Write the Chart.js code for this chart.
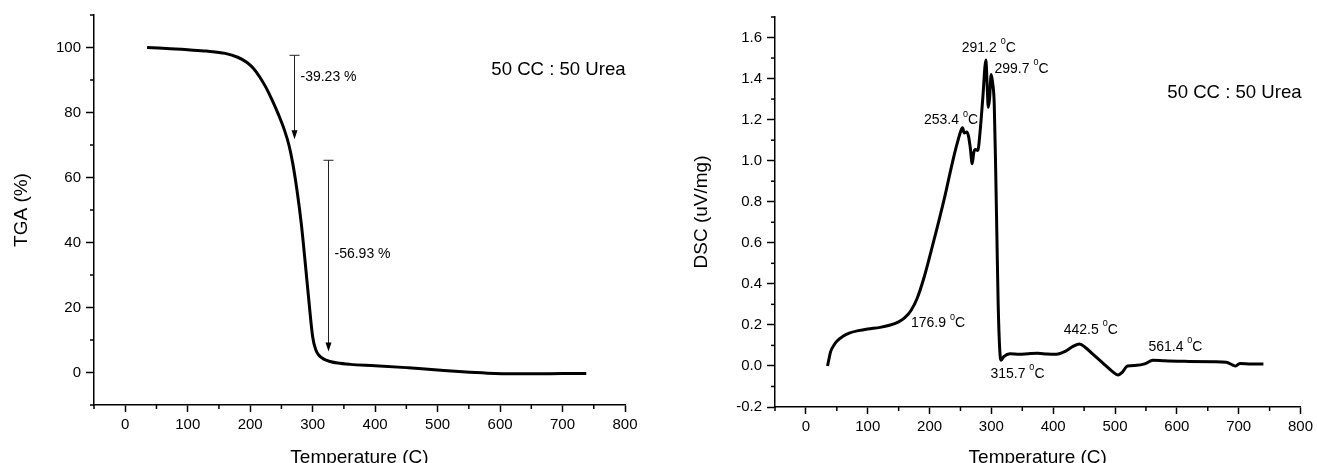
<!DOCTYPE html>
<html>
<head>
<meta charset="utf-8">
<script src="https://cdn.jsdelivr.net/npm/chart.js@4.4.0/dist/chart.umd.min.js"></script>
<style>
  html, body { margin: 0; padding: 0; background: #fff; overflow: hidden; }
  .panel { position: absolute; top: 0; }
  #tgaBox { left: 0; }
  #dscBox { left: 658px; }
</style>
</head>
<body>
<div class="panel" id="tgaBox"><canvas id="tgaChart" width="658" height="471"></canvas></div>
<div class="panel" id="dscBox"><canvas id="dscChart" width="659" height="471"></canvas></div>
<script>
// TGA curve : temperature (C) -> mass (%)
const tgaTemps = [35, 60, 100, 130, 160, 180, 195, 205, 215, 225, 235, 245, 255, 262, 268,
  275, 282, 288, 294, 300, 305, 310, 318, 328, 340, 360, 400, 450, 480, 510, 540, 580, 620, 660, 700, 738];
const tgaValues = [100, 99.8, 99.3, 98.9, 98.2, 97, 95.4, 93.6, 91, 87.8, 83.9, 79.5, 74.5, 70, 64.5,
  56, 45.5, 34, 22, 11, 7, 5.3, 4.1, 3.4, 2.9, 2.5, 2.1, 1.5, 1.1, 0.6, 0.2, -0.2, -0.4, -0.4, -0.3, -0.3];

// DSC curve : temperature (C) -> uV/mg
const dscTemps = [35, 37, 40, 45, 50, 60, 70, 85, 100, 120, 135, 150, 160, 170, 180,
  190, 200, 212, 225, 232, 240, 247, 250, 253.4, 256, 260, 263, 266, 269, 271.5,
  274, 278, 282, 286, 291.2, 293, 295, 297, 299.7, 302, 304.6, 307, 309, 311, 313.5,
  315.7, 320, 330, 345, 360, 375, 390, 405, 420, 432, 442.5, 452, 465, 480, 495,
  505, 512, 520, 535, 548, 561.4, 580, 620, 660, 680, 690, 695, 702, 720, 740];
const dscValues = [0, 0.03, 0.07, 0.1, 0.12, 0.145, 0.16, 0.172, 0.18, 0.188, 0.198, 0.215, 0.235, 0.27, 0.33,
  0.42, 0.53, 0.67, 0.83, 0.925, 1.03, 1.11, 1.14, 1.16, 1.135, 1.14, 1.12, 1.06, 0.985, 1.04,
  1.055, 1.05, 1.15, 1.3, 1.49, 1.38, 1.26, 1.3, 1.42, 1.38, 1.28, 0.95, 0.62, 0.3, 0.08,
  0.028, 0.045, 0.06, 0.057, 0.06, 0.062, 0.058, 0.057, 0.072, 0.095, 0.107, 0.09, 0.055, 0.015, -0.025,
  -0.044, -0.03, 0.0, 0.003, 0.01, 0.028, 0.025, 0.022, 0.02, 0.018, 0.005, 0.0, 0.012, 0.01, 0.01];

// labelled ticks
const tempTicks = [0, 100, 200, 300, 400, 500, 600, 700, 800];
const tgaTicks = [0, 20, 40, 60, 80, 100];
const dscTicks = [-0.2, 0.0, 0.2, 0.4, 0.6, 0.8, 1.0, 1.2, 1.4, 1.6];

// mass loss steps (temperature, start %, end %)
const stepTemps = [270, 325];
const stepFrom = [97.6, 65.3];
const stepTo = [71.8, 6.5];
const stepLabels = ['-39.23 %', '-56.93 %'];

// peak temperatures written on the DSC curve
const peakLabels = ['176.9', '253.4', '291.2', '299.7', '315.7', '442.5', '561.4'];

const sampleName = '50 CC : 50 Urea';

const FONT = '"Liberation Sans", Arial, Helvetica, sans-serif';
Chart.defaults.font.family = FONT;
Chart.defaults.color = '#000';

const near = (list, v) => list.some(t => Math.abs(t - v) < 1e-6);

// short minor ticks, the library draws only the major ones
function minorTicks(xMajor, yMajor) {
  return {
    id: 'minorTicks',
    afterDraw(chart) {
      const ctx = chart.ctx;
      ctx.save();
      ctx.strokeStyle = '#000';
      ctx.lineWidth = 1.5;
      const xs = chart.scales.x, ys = chart.scales.y;
      xs.ticks.forEach(t => {
        if (near(xMajor, t.value)) return;
        const p = xs.getPixelForValue(t.value);
        ctx.beginPath(); ctx.moveTo(p, xs.top); ctx.lineTo(p, xs.top + 4); ctx.stroke();
      });
      ys.ticks.forEach(t => {
        if (near(yMajor, t.value)) return;
        const p = ys.getPixelForValue(t.value);
        ctx.beginPath(); ctx.moveTo(ys.right - 4, p); ctx.lineTo(ys.right, p); ctx.stroke();
      });
      ctx.restore();
    }
  };
}

function degLabel(ctx, text, x, y) {
  ctx.textAlign = 'left';
  ctx.textBaseline = 'middle';
  ctx.font = '14px ' + FONT;
  ctx.fillText(text + ' ', x, y);
  let w = ctx.measureText(text + ' ').width;
  ctx.font = '9px ' + FONT;
  ctx.fillText('0', x + w, y - 6);
  w += ctx.measureText('0').width;
  ctx.font = '14px ' + FONT;
  ctx.fillText('C', x + w, y);
}

function sampleText(chart, t, v) {
  const ctx = chart.ctx;
  ctx.font = '18.6px ' + FONT;
  ctx.fillStyle = '#000';
  ctx.textAlign = 'left';
  ctx.textBaseline = 'middle';
  ctx.fillText(sampleName, chart.scales.x.getPixelForValue(t), chart.scales.y.getPixelForValue(v));
}

const tgaNotes = {
  id: 'tgaNotes',
  afterDatasetsDraw(chart) {
    const ctx = chart.ctx, xs = chart.scales.x, ys = chart.scales.y;
    const labelAt = [91, 36.3];
    ctx.save();
    ctx.strokeStyle = '#222';
    ctx.fillStyle = '#000';
    ctx.lineWidth = 1;
    stepTemps.forEach((t, i) => {
      const x = Math.round(xs.getPixelForValue(t)) + 0.5;
      const y0 = ys.getPixelForValue(stepFrom[i]);
      const y1 = ys.getPixelForValue(stepTo[i]);
      ctx.beginPath();
      ctx.moveTo(x - 5, y0); ctx.lineTo(x + 5, y0);
      ctx.moveTo(x, y0); ctx.lineTo(x, y1 - 6);
      ctx.stroke();
      ctx.beginPath();
      ctx.moveTo(x, y1); ctx.lineTo(x - 3, y1 - 9); ctx.lineTo(x + 3, y1 - 9);
      ctx.closePath(); ctx.fill();
      ctx.font = '14px ' + FONT;
      ctx.textAlign = 'left';
      ctx.textBaseline = 'middle';
      ctx.fillText(stepLabels[i], x + 6, ys.getPixelForValue(labelAt[i]));
    });
    sampleText(chart, 586, 93);
    ctx.restore();
  }
};

const dscNotes = {
  id: 'dscNotes',
  afterDatasetsDraw(chart) {
    const ctx = chart.ctx, xs = chart.scales.x, ys = chart.scales.y;
    // where each label starts (temperature, uV/mg)
    const at = [[170, 0.207], [191, 1.198], [252, 1.55], [305, 1.447], [298.5, -0.039], [417, 0.176], [554, 0.094]];
    ctx.save();
    ctx.fillStyle = '#000';
    peakLabels.forEach((p, i) => {
      degLabel(ctx, p, xs.getPixelForValue(at[i][0]), ys.getPixelForValue(at[i][1]));
    });
    sampleText(chart, 584.6, 1.33);
    ctx.restore();
  }
};

function axisX(height) {
  return {
    type: 'linear', min: -50, max: 800,
    ticks: {
      stepSize: 50, autoSkip: false, maxRotation: 0, padding: 4,
      font: { size: 15 }, color: '#000',
      callback: v => near(tempTicks, v) ? String(v) : ''
    },
    grid: {
      drawOnChartArea: false, tickLength: 7, tickWidth: 1.5,
      tickColor: c => near(tempTicks, c.tick.value) ? '#000' : 'rgba(0,0,0,0)'
    },
    border: { color: '#000', width: 1.5 },
    title: { display: true, text: 'Temperature (C)', font: { size: 19 }, color: '#000', padding: { top: 4, bottom: 2 } },
    afterFit: s => { s.height = height; }
  };
}

function axisY(opts) {
  return {
    type: 'linear', min: opts.min, max: opts.max,
    ticks: {
      stepSize: opts.step, autoSkip: false, padding: 5,
      font: { size: 15 }, color: '#000',
      callback: v => near(opts.major, v) ? opts.fmt(v) : ''
    },
    grid: {
      drawOnChartArea: false, tickLength: 8, tickWidth: 1.5,
      tickColor: c => near(opts.major, c.tick.value) ? '#000' : 'rgba(0,0,0,0)'
    },
    border: { color: '#000', width: 1.5 },
    title: { display: true, text: opts.title, font: { size: 19 }, color: '#000', padding: { top: opts.titlePad, bottom: 0 } },
    afterFit: s => { s.width = opts.width; }
  };
}

function lineData(temps, values) {
  return temps.map((t, i) => ({ x: t, y: values[i] }));
}

new Chart(document.getElementById('tgaChart'), {
  type: 'line',
  data: {
    datasets: [{
      label: 'TGA',
      data: lineData(tgaTemps, tgaValues),
      borderColor: '#000', borderWidth: 3, pointRadius: 0,
      cubicInterpolationMode: 'monotone', fill: false
    }]
  },
  options: {
    responsive: false, animation: false,
    layout: { padding: { left: 0, right: 33, top: 15, bottom: 0 } },
    plugins: { legend: { display: false }, tooltip: { enabled: false } },
    scales: {
      x: axisX(66),
      y: axisY({ min: -10, max: 110, step: 10, major: tgaTicks, fmt: v => String(v),
                 title: 'TGA (%)', titlePad: 10, width: 94 })
    }
  },
  plugins: [minorTicks(tempTicks, tgaTicks), tgaNotes]
});

new Chart(document.getElementById('dscChart'), {
  type: 'line',
  data: {
    datasets: [{
      label: 'DSC',
      data: lineData(dscTemps, dscValues),
      borderColor: '#000', borderWidth: 3, pointRadius: 0,
      cubicInterpolationMode: 'monotone', fill: false
    }]
  },
  options: {
    responsive: false, animation: false,
    layout: { padding: { left: 0, right: 13, top: 17, bottom: 0 } },
    plugins: { legend: { display: false }, tooltip: { enabled: false } },
    scales: {
      x: axisX(64),
      y: axisY({ min: -0.2, max: 1.7, step: 0.1, major: dscTicks,
                 fmt: v => (Math.abs(v) < 1e-9 ? 0 : v).toFixed(1),
                 title: 'DSC (uV/mg)', titlePad: 32, width: 117 })
    }
  },
  plugins: [minorTicks(tempTicks, dscTicks), dscNotes]
});
</script>
</body>
</html>
